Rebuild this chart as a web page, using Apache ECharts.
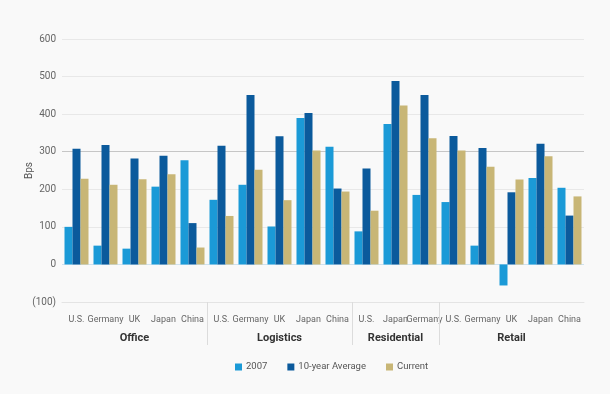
<!DOCTYPE html>
<html><head><meta charset="utf-8">
<script src="https://cdn.jsdelivr.net/npm/echarts@6/dist/echarts.min.js"></script>
<style>html,body{margin:0;padding:0;background:#f9f9f9}#c{width:610px;height:394px}</style>
</head><body><div id="c"></div>
<script>
const categories = ['U.S.','Germany','UK','Japan','China','U.S.','Germany','UK','Japan','China','U.S.','Japan','Germany','U.S.','Germany','UK','Japan','China'];
const groups = {2:'Office',7:'Logistics',11:'Residential',15:'Retail'};
const groupBoundaries = [5,10,13];
const s2007 = [100,50,42,207,277, 172,212,101,390,313, 88,374,185, 166,50,-56,230,204];
const s10yr = [308,318,282,289,110, 316,451,341,403,202, 255,488,451, 342,310,192,321,130];
const sCurrent = [228,212,227,240,45, 129,252,171,303,194, 143,423,336, 303,260,226,288,181];
const yTicks = [-100,0,100,200,300,400,500,600];

const FONT = '"Roboto","Liberation Sans Narrow",sans-serif';
const chart = echarts.init(document.getElementById('c'));
chart.setOption({
  backgroundColor:'#f9f9f9',
  animation:false,
  textStyle:{fontFamily:FONT},
  legend:{
    top:357, left:230, itemWidth:7, itemHeight:7, itemGap:20, icon:'rect',
    textStyle:{fontFamily:FONT,fontSize:9.5,color:'#555',padding:[0,0,0,-1]},
    data:['2007','10-year Average','Current']
  },
  grid:[{left:62,right:26,top:39,bottom:92},{left:62,right:26,top:302,height:43}],
  xAxis:[{
    type:'category', data:categories, position:'bottom', gridIndex:0,
    axisLine:{show:true,onZero:false,lineStyle:{color:'#e4e4e4'}},
    axisTick:{show:false},
    axisLabel:{interval:0,margin:13,fontSize:9,color:'#666',fontFamily:FONT}
  },{
    type:'category', data:categories, position:'bottom', gridIndex:0,
    axisLine:{show:false}, axisTick:{show:false},
    axisLabel:{interval:0,margin:31,fontSize:11,fontWeight:'bold',color:'#333',fontFamily:FONT,
      formatter:function(v,i){return groups[i]||'';}}
  },{
    type:'value', gridIndex:1, min:0, max:categories.length, show:false
  }],
  yAxis:[{
    type:'value', gridIndex:0, min:yTicks[0], max:yTicks[yTicks.length-1], interval:100,
    name:'Bps', nameLocation:'middle', nameGap:28, nameRotate:90, nameMoveOverlap:false,
    nameTextStyle:{fontFamily:FONT,fontSize:10,color:'#555'},
    axisLine:{show:false}, axisTick:{show:false},
    axisLabel:{fontSize:10,color:'#666',margin:6,fontFamily:FONT,
      formatter:function(v){return v<0?'('+(-v)+')':String(v);}},
    splitLine:{lineStyle:{color:['#e4e4e4','#cfe2ef','#e8e8e8','#e8e8e8','#c6c6c6','#e8e8e8','#e8e8e8','#e8e8e8']}}
  },{
    type:'value', gridIndex:1, min:0, max:1, show:false
  }],
  series:[
    {name:'2007',type:'bar',data:s2007,barWidth:8,barGap:'0%',itemStyle:{color:'#1b9ad7'}},
    {name:'10-year Average',type:'bar',data:s10yr,barWidth:8,barGap:'0%',itemStyle:{color:'#0b5a9c'}},
    {name:'Current',type:'bar',data:sCurrent,barWidth:8,barGap:'0%',itemStyle:{color:'#c8b676'}},
    {type:'line',xAxisIndex:2,yAxisIndex:1,data:[],silent:true,
      markLine:{silent:true,symbol:'none',label:{show:false},animation:false,
        lineStyle:{color:'#dcdcdc',type:'solid',width:1},
        data:groupBoundaries.map(function(b){return {xAxis:b};})}}
  ]
});
</script></body></html>
